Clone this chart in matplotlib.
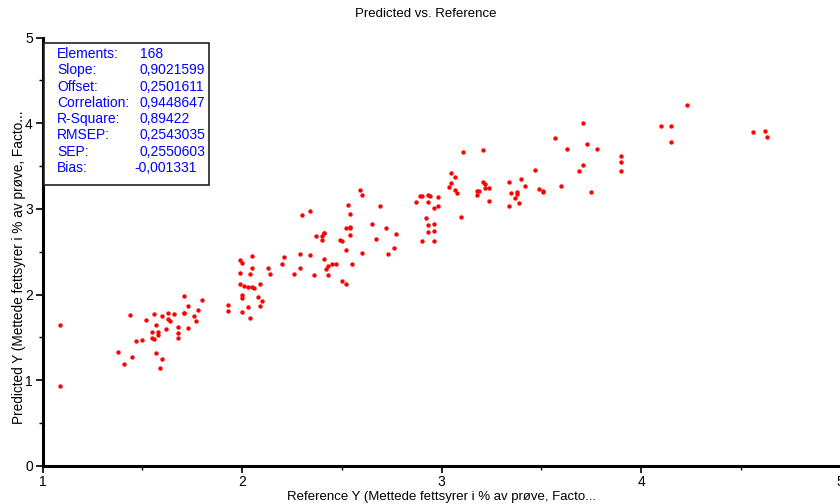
import matplotlib
matplotlib.use("Agg")
import matplotlib.pyplot as plt
from matplotlib.patches import Rectangle
from matplotlib.ticker import MultipleLocator

plt.rcParams['font.family'] = ['Liberation Sans', 'DejaVu Sans']

# reference values (x) and predicted values (y), 168 samples
ref_y = [1.09, 1.09, 1.44, 1.38, 1.41, 1.45, 1.47, 1.50, 1.52, 1.56,
         1.57, 1.55, 1.55, 1.56, 1.58, 1.58, 1.57, 1.60, 1.59, 1.60,
         1.63, 1.63, 1.64, 1.62, 1.66, 1.68, 1.68, 1.68, 1.71, 1.71,
         1.73, 1.71, 1.73, 1.76, 1.77, 1.78, 1.80, 1.93, 1.93, 1.99,
         2.00, 2.05, 2.05, 1.99, 2.04, 1.99, 2.01, 2.03, 2.05, 2.06,
         2.09, 2.00, 2.00, 2.08, 2.10, 2.09, 2.03, 2.00, 2.04, 2.13,
         2.14, 2.21, 2.20, 2.26, 2.29, 2.29, 2.34, 2.36, 2.41, 2.42,
         2.43, 2.43, 2.40, 2.30, 2.34, 2.37, 2.40, 2.41, 2.41, 2.45,
         2.47, 2.50, 2.52, 2.52, 2.55, 2.60, 2.49, 2.50, 2.52, 2.54,
         2.54, 2.54, 2.53, 2.54, 2.59, 2.60, 2.65, 2.69, 2.67, 2.72,
         2.77, 2.76, 2.73, 2.87, 2.89, 2.90, 2.93, 2.94, 2.93, 2.98,
         2.96, 2.98, 2.92, 2.93, 2.96, 2.93, 2.96, 2.90, 2.96, 3.11,
         3.21, 3.05, 3.07, 3.05, 3.04, 3.07, 3.08, 3.10, 3.21, 3.22,
         3.22, 3.24, 3.18, 3.19, 3.18, 3.24, 3.34, 3.40, 3.42, 3.35,
         3.38, 3.38, 3.37, 3.39, 3.34, 3.47, 3.49, 3.51, 3.51, 3.57,
         3.63, 3.60, 3.71, 3.73, 3.78, 3.71, 3.69, 3.75, 3.90, 3.90,
         3.90, 4.10, 4.15, 4.15, 4.23, 4.56, 4.62, 4.63]
pred_y = [1.64, 0.93, 1.76, 1.33, 1.19, 1.27, 1.46, 1.47, 1.70, 1.77,
          1.64, 1.56, 1.49, 1.48, 1.56, 1.53, 1.32, 1.25, 1.14, 1.75,
          1.78, 1.71, 1.69, 1.60, 1.77, 1.62, 1.55, 1.49, 1.78, 1.78,
          1.87, 1.98, 1.61, 1.75, 1.69, 1.82, 1.94, 1.88, 1.81, 2.40,
          2.37, 2.45, 2.31, 2.25, 2.24, 2.12, 2.10, 2.09, 2.09, 2.08,
          2.12, 1.99, 1.96, 1.97, 1.92, 1.87, 1.85, 1.80, 1.73, 2.31,
          2.24, 2.44, 2.36, 2.24, 2.47, 2.31, 2.46, 2.23, 2.41, 2.30,
          2.33, 2.23, 2.64, 2.93, 2.98, 2.68, 2.68, 2.72, 2.72, 2.36,
          2.36, 2.16, 2.12, 2.52, 2.36, 2.48, 2.64, 2.62, 2.78, 2.79,
          2.78, 2.70, 3.05, 2.94, 3.22, 3.16, 2.82, 3.03, 2.65, 2.78,
          2.71, 2.54, 2.47, 3.08, 3.15, 3.15, 3.16, 3.15, 3.08, 3.14,
          3.01, 3.03, 2.89, 2.81, 2.82, 2.73, 2.74, 2.62, 2.62, 3.66,
          3.69, 3.42, 3.37, 3.30, 3.26, 3.22, 3.19, 2.91, 3.31, 3.29,
          3.24, 3.24, 3.21, 3.21, 3.16, 3.09, 3.31, 3.35, 3.27, 3.19,
          3.20, 3.17, 3.13, 3.07, 3.03, 3.45, 3.23, 3.21, 3.20, 3.83,
          3.70, 3.27, 4.00, 3.76, 3.70, 3.51, 3.44, 3.20, 3.62, 3.55,
          3.44, 3.97, 3.97, 3.78, 4.21, 3.90, 3.91, 3.84]

stat_names = ['Elements:', 'Slope:', 'Offset:', 'Correlation:', 'R-Square:',
              'RMSEP:', 'SEP:', 'Bias:']
stat_values = ['168', '0,9021599', '0,2501611', '0,9448647', '0,89422',
               '0,2543035', '0,2550603', '-0,001331']

W, H = 840, 504
fig = plt.figure(figsize=(8.4, 5.04), dpi=100)
ax = fig.add_axes([42.5 / W, 1 - 465.7 / H, 798 / W, 428 / H])

ax.scatter(ref_y, pred_y, s=10, color='red', linewidths=0, zorder=3)

ax.set_xlim(1, 5)
ax.set_ylim(0, 5)
ax.xaxis.set_major_locator(MultipleLocator(1))
ax.xaxis.set_minor_locator(MultipleLocator(0.5))
ax.yaxis.set_major_locator(MultipleLocator(1))
ax.yaxis.set_minor_locator(MultipleLocator(0.5))

for side in ('top', 'right'):
    ax.spines[side].set_visible(False)
for side in ('left', 'bottom'):
    ax.spines[side].set_linewidth(2.2)
ax.tick_params(which='major', direction='out', length=5, width=1.2,
               labelsize=10, pad=2)
ax.tick_params(which='minor', direction='out', length=3, width=1)

ax.set_xlabel('Reference Y (Mettede fettsyrer i % av prøve, Facto...',
              fontsize=9.5, labelpad=1)
ax.set_ylabel('Predicted Y (Mettede fettsyrer i % av prøve, Facto...',
              fontsize=9.8)
ax.yaxis.set_label_coords(-0.0205, 0.464)

fig.text(426 / W, 1 - 14 / H, 'Predicted vs. Reference', fontsize=9.5,
         ha='center', va='center')

# statistics box in the upper left corner
box = Rectangle((44 / W, 1 - 185 / H), 165 / W, 142 / H,
                transform=fig.transFigure, facecolor='white',
                edgecolor='#222222', linewidth=1.2, zorder=5)
fig.patches.append(box)
for i, (name, val) in enumerate(zip(stat_names, stat_values)):
    yy = 1 - (54 + i * 16.3) / H
    fig.text(57 / W, yy, name, color='#0000ff', fontsize=10,
             va='center', ha='left', zorder=6)
    xv = 134 if val.startswith('-') else 140
    fig.text(xv / W, yy, val, color='#0000ff', fontsize=10,
             va='center', ha='left', zorder=6)

fig.savefig('out.png', dpi=100)
